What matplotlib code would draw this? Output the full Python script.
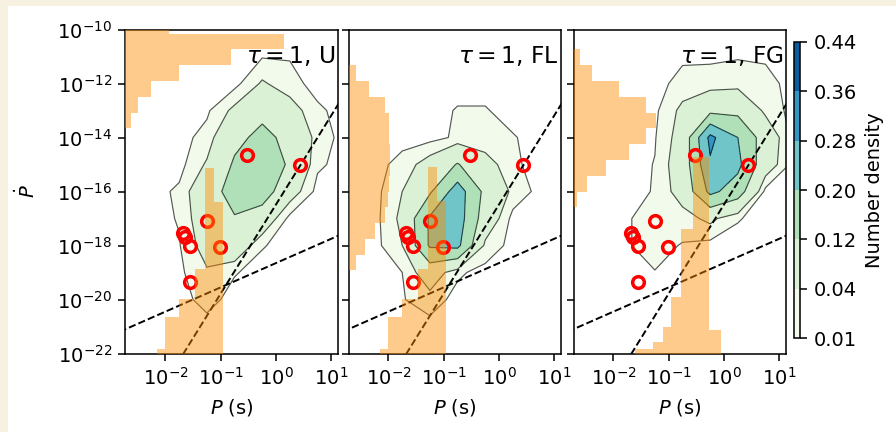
import numpy as np
import matplotlib
matplotlib.use("Agg")
import matplotlib.pyplot as plt
from matplotlib.patches import Rectangle
from matplotlib.ticker import FixedLocator, NullLocator

# ---------------------------------------------------------------- data
panel_titles = [r"$\tau = 1$, U", r"$\tau = 1$, FL", r"$\tau = 1$, FG"]

# density grid nodes (log10 P, log10 Pdot)
logp_nodes = [-2.75, -2.25, -1.75, -1.25, -0.75, -0.25, 0.25, 0.75, 1.25]
logpdot_nodes = [-21, -20, -19, -18, -17, -16, -15, -14, -13, -12, -11, -10]

# number density on the grid, rows follow logpdot_nodes (bottom to top)
density_u = [
    [0, 0, 0, 0, 0, 0, 0, 0, 0],
    [0, 0, 0, 0.02, 0, 0, 0, 0, 0],
    [0, 0, 0.004, 0.035, 0.012, 0, 0, 0, 0],
    [0, 0, 0.008, 0.06, 0.08, 0.012, 0, 0, 0],
    [0, 0, 0.012, 0.075, 0.115, 0.08, 0, 0, 0],
    [0, 0, 0.015, 0.085, 0.15, 0.16, 0.065, 0, 0],
    [0, 0, 0, 0.045, 0.13, 0.17, 0.11, 0.015, 0],
    [0, 0, 0, 0.02, 0.10, 0.14, 0.10, 0.025, 0],
    [0, 0, 0, 0.005, 0.05, 0.10, 0.06, 0.015, 0],
    [0, 0, 0, 0, 0, 0.045, 0.02, 0, 0],
    [0, 0, 0, 0, 0, 0.008, 0.008, 0, 0],
    [0, 0, 0, 0, 0, 0, 0, 0, 0],
]
density_fl = [
    [0, 0, 0, 0, 0, 0, 0, 0, 0],
    [0, 0, 0.008, 0.025, 0, 0, 0, 0, 0],
    [0, 0, 0.01, 0.07, 0.015, 0, 0, 0, 0],
    [0, 0, 0.04, 0.21, 0.22, 0.03, 0, 0, 0],
    [0, 0, 0.05, 0.21, 0.24, 0.08, 0, 0, 0],
    [0, 0, 0.04, 0.11, 0.24, 0.10, 0.03, 0, 0],
    [0, 0, 0.02, 0.06, 0.125, 0.06, 0.015, 0, 0],
    [0, 0, 0, 0, 0.015, 0.015, 0.012, 0, 0],
    [0, 0, 0, 0, 0.012, 0.012, 0, 0, 0],
    [0, 0, 0, 0, 0, 0, 0, 0, 0],
    [0, 0, 0, 0, 0, 0, 0, 0, 0],
    [0, 0, 0, 0, 0, 0, 0, 0, 0],
]
density_fg = [
    [0, 0, 0, 0, 0, 0, 0, 0, 0],
    [0, 0, 0, 0, 0, 0, 0, 0, 0],
    [0, 0, 0, 0.009, 0, 0, 0, 0, 0],
    [0, 0, 0.008, 0.02, 0.008, 0, 0, 0, 0],
    [0, 0, 0.008, 0.02, 0.025, 0.05, 0.012, 0, 0],
    [0, 0, 0, 0.012, 0.06, 0.22, 0.16, 0, 0],
    [0, 0, 0, 0.011, 0.07, 0.27, 0.22, 0.07, 0],
    [0, 0, 0, 0.008, 0.06, 0.30, 0.20, 0.08, 0],
    [0, 0, 0, 0.004, 0.05, 0.10, 0.10, 0.03, 0],
    [0, 0, 0, 0, 0.02, 0.02, 0.025, 0.02, 0],
    [0, 0, 0, 0, 0.005, 0.006, 0.008, 0.006, 0],
    [0, 0, 0, 0, 0, 0, 0, 0, 0],
]
density_levels = [0.01, 0.04, 0.12, 0.20, 0.28, 0.36, 0.44]

# marginal histogram of log10 Pdot (bin edges, counts)
pdot_edges_u = [-13.66, -13.075, -12.49, -11.905, -11.32, -10.735, -10.15, -9.565]
pdot_counts_u = [5.7, 12.3, 25.7, 54, 105.7, 159, 44]
pdot_edges_fl = [-18.925, -18.34, -17.755, -17.17, -16.585, -16.0, -15.415,
                 -14.83, -14.245, -13.66, -13.075, -12.49, -11.905, -11.32]
pdot_counts_fl = [7.5, 16.5, 26.5, 36.5, 39, 40, 41, 41, 40, 40, 36.5, 20, 7.5]
pdot_edges_fg = [-16.585, -16.0, -15.415, -14.83, -14.245, -13.66, -13.075,
                 -12.49, -11.905, -11.32, -10.735]
pdot_counts_fg = [3, 13, 32, 55, 72, 82, 72, 45, 18, 6]

# marginal histogram of log10 P (bin edges, counts)
p_edges_u = [-2.153, -2.0, -1.76, -1.46, -1.28, -1.13, -0.95]
p_counts_u = [5, 37, 55, 85, 186, 152]
p_edges_fl = [-2.153, -2.0, -1.76, -1.46, -1.28, -1.13, -0.95]
p_counts_fl = [5, 37, 55, 85, 187, 153]
p_edges_fg = [-1.616, -1.285, -1.105, -0.955, -0.775, -0.564, -0.265, -0.054]
p_counts_fg = [5, 12, 27, 57, 125, 197, 23.5]

# observed pulsars
obs_p = [0.30, 2.7, 0.056, 0.021, 0.023, 0.028, 0.098, 0.028]
obs_pdot = [2.2e-15, 9.5e-16, 8.1e-18, 2.8e-18, 2.0e-18, 1.0e-18, 9.1e-19, 4.6e-20]

# death lines: log Pdot = slope * log P + intercept
death_slopes = [3.3, 0.9]
death_intercepts = [-16.48, -18.65]

x_ticks = [1e-2, 1e-1, 1e0, 1e1]
y_ticks = [1e-22, 1e-20, 1e-18, 1e-16, 1e-14, 1e-12, 1e-10]
cbar_ticks = density_levels

# ---------------------------------------------------------------- figure
DPI = 140
fig = plt.figure(figsize=(896 / DPI, 432 / DPI), dpi=DPI)

W, H = 896.0, 432.0
ax_left = [125.5, 348.5, 573.5]
ax_w, ax_bottom_px, ax_top_px = 212.5, 353.5, 29.5
xlim = (1.9e-3, 13.2)
ylim = (1e-22, 1e-10)

densities = [density_u, density_fl, density_fg]
pdot_hists = [(pdot_edges_u, pdot_counts_u), (pdot_edges_fl, pdot_counts_fl),
              (pdot_edges_fg, pdot_counts_fg)]
p_hists = [(p_edges_u, p_counts_u), (p_edges_fl, p_counts_fl),
           (p_edges_fg, p_counts_fg)]

hist_color = "darkorange"
hist_alpha = 0.45

cs_last = None
for i in range(3):
    rect = [ax_left[i] / W, (H - ax_bottom_px) / H, ax_w / W,
            (ax_bottom_px - ax_top_px) / H]

    # density contours, computed in log10 space underneath the log axes
    axc = fig.add_axes(rect)
    z = np.array(densities[i], float)
    cs = axc.contourf(logp_nodes, logpdot_nodes, z, levels=density_levels,
                      cmap="GnBu")
    axc.contour(logp_nodes, logpdot_nodes, z, levels=density_levels,
                colors="k", linewidths=0.6, alpha=0.65)
    axc.set_xlim(np.log10(xlim))
    axc.set_ylim(np.log10(ylim))
    axc.axis("off")
    cs_last = cs

    ax = fig.add_axes(rect)
    ax.set_facecolor("none")
    ax.set_xscale("log")
    ax.set_yscale("log")

    lp = np.linspace(-3.0, 1.5, 50)
    for s, b in zip(death_slopes, death_intercepts):
        ax.plot(10 ** lp, 10 ** (s * lp + b), ls="--", color="k", lw=1.0, zorder=3)

    ax.plot(obs_p, obs_pdot, ls="none", marker="o", ms=6.0, mfc="none",
            mec="red", mew=1.8, zorder=4)

    ax.set_xlim(*xlim)
    ax.set_ylim(*ylim)
    ax.xaxis.set_major_locator(FixedLocator(x_ticks))
    ax.yaxis.set_major_locator(FixedLocator(y_ticks))
    ax.xaxis.set_minor_locator(NullLocator())
    ax.yaxis.set_minor_locator(NullLocator())
    ax.set_xlabel(r"$P$ (s)")
    if i == 0:
        ax.set_ylabel(r"$\dot{P}$", labelpad=9)
    else:
        ax.tick_params(labelleft=False)

    ax.text(0.99, 0.955, panel_titles[i], transform=ax.transAxes, ha="right",
            va="top", fontsize=12, zorder=6)

    # marginal distribution of Pdot along the left edge
    axh = ax.twiny()
    e, c = pdot_hists[i]
    axh.stairs(c, 10.0 ** np.array(e), orientation="horizontal", fill=True,
               color=hist_color, alpha=hist_alpha, lw=0)
    axh.set_xlim(0, ax_w)
    axh.set_ylim(*ylim)
    axh.axis("off")

    # marginal distribution of P along the bottom edge
    axv = ax.twinx()
    e, c = p_hists[i]
    axv.stairs(c, 10.0 ** np.array(e), fill=True, color=hist_color,
               alpha=hist_alpha, lw=0)
    axv.set_ylim(0, ax_bottom_px - ax_top_px)
    axv.set_xlim(*xlim)
    axv.axis("off")

cax = fig.add_axes([794 / W, (H - 338.3) / H, 6.0 / W, (338.3 - 41.7) / H])
cb = fig.colorbar(cs_last, cax=cax, ticks=cbar_ticks, format="%.2f")
cb.set_label("Number density")

# page margin strips
beige = "#f7f1e2"
fig.patches.append(Rectangle((0, 1 - 5 / H), 1, 5 / H, transform=fig.transFigure,
                             color=beige, zorder=-1))
fig.patches.append(Rectangle((0, 0), 7 / W, 1, transform=fig.transFigure,
                             color=beige, zorder=-1))

fig.savefig("out.png", dpi=DPI)
